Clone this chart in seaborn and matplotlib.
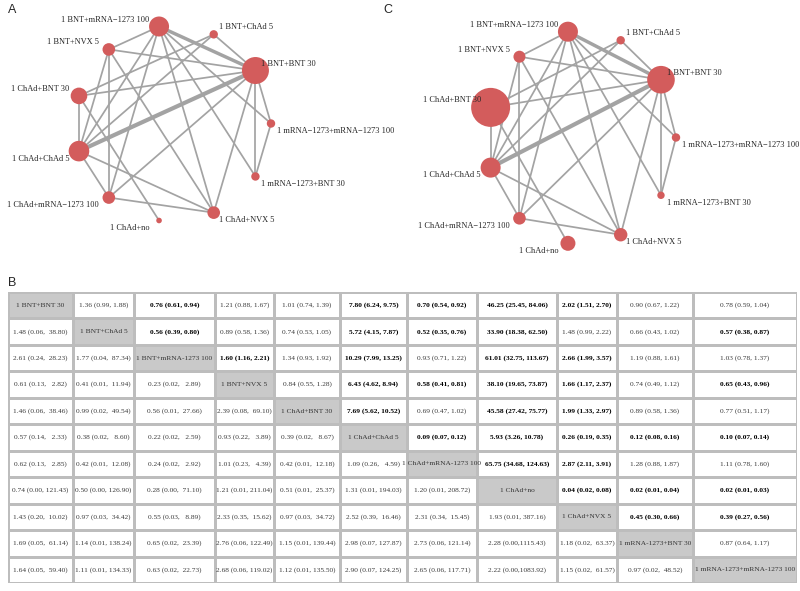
import re
import numpy as np
import matplotlib
matplotlib.use("Agg")
import matplotlib.pyplot as plt
import seaborn as sns
from matplotlib.colors import ListedColormap

# ---------- data ----------
treatments = ["1 BNT+BNT 30", "1 BNT+ChAd 5", "1 BNT+mRNA-1273 100", "1 BNT+NVX 5",
              "1 ChAd+BNT 30", "1 ChAd+ChAd 5", "1 ChAd+mRNA-1273 100", "1 ChAd+no",
              "1 ChAd+NVX 5", "1 mRNA-1273+BNT 30", "1 mRNA-1273+mRNA-1273 100"]

# direct comparisons in the network (indices into treatments)
edges = [(0, 1), (0, 2), (0, 3), (0, 4), (0, 5), (0, 6), (0, 8), (0, 9), (0, 10),
         (1, 4), (1, 5),
         (2, 3), (2, 5), (2, 6), (2, 8), (2, 9), (2, 10),
         (3, 5), (3, 6), (3, 8),
         (4, 5), (4, 7),
         (5, 6), (5, 8),
         (6, 8),
         (9, 10)]
edge_weight = [1, 2.0, 1, 1, 2.4, 1, 1, 1, 1,
               1, 1,
               1, 1, 1, 1, 1, 1,
               1, 1, 1,
               1, 1,
               1, 1,
               1,
               1]

# node size (radius, px) in panel A and panel C
node_a = [13.5, 4.2, 10.0, 6.3, 8.3, 10.3, 6.3, 2.8, 6.3, 4.2, 4.2]
node_c = [13.8, 4.2, 10.0, 6.0, 19.5, 10.0, 6.3, 7.5, 6.7, 3.7, 4.2]

# league table: upper triangle = panel B upper, lower triangle = lower
cells = [
    [None, "1.36 (0.99, 1.88)", "0.76 (0.61, 0.94)", "1.21 (0.88, 1.67)", "1.01 (0.74, 1.39)",
     "7.80 (6.24, 9.75)", "0.70 (0.54, 0.92)", "46.25 (25.45, 84.06)", "2.02 (1.51, 2.70)",
     "0.90 (0.67, 1.22)", "0.78 (0.59, 1.04)"],
    ["1.48 (0.06, 38.80)", None, "0.56 (0.39, 0.80)", "0.89 (0.58, 1.36)", "0.74 (0.53, 1.05)",
     "5.72 (4.15, 7.87)", "0.52 (0.35, 0.76)", "33.90 (18.38, 62.50)", "1.48 (0.99, 2.22)",
     "0.66 (0.43, 1.02)", "0.57 (0.38, 0.87)"],
    ["2.61 (0.24, 28.23)", "1.77 (0.04, 87.34)", None, "1.60 (1.16, 2.21)", "1.34 (0.93, 1.92)",
     "10.29 (7.99, 13.25)", "0.93 (0.71, 1.22)", "61.01 (32.75, 113.67)", "2.66 (1.99, 3.57)",
     "1.19 (0.88, 1.61)", "1.03 (0.78, 1.37)"],
    ["0.61 (0.13, 2.82)", "0.41 (0.01, 11.94)", "0.23 (0.02, 2.89)", None, "0.84 (0.55, 1.28)",
     "6.43 (4.62, 8.94)", "0.58 (0.41, 0.81)", "38.10 (19.65, 73.87)", "1.66 (1.17, 2.37)",
     "0.74 (0.49, 1.12)", "0.65 (0.43, 0.96)"],
    ["1.46 (0.06, 38.46)", "0.99 (0.02, 49.54)", "0.56 (0.01, 27.66)", "2.39 (0.08, 69.10)", None,
     "7.69 (5.62, 10.52)", "0.69 (0.47, 1.02)", "45.58 (27.42, 75.77)", "1.99 (1.33, 2.97)",
     "0.89 (0.58, 1.36)", "0.77 (0.51, 1.17)"],
    ["0.57 (0.14, 2.33)", "0.38 (0.02, 8.60)", "0.22 (0.02, 2.59)", "0.93 (0.22, 3.89)",
     "0.39 (0.02, 8.67)", None, "0.09 (0.07, 0.12)", "5.93 (3.26, 10.78)", "0.26 (0.19, 0.35)",
     "0.12 (0.08, 0.16)", "0.10 (0.07, 0.14)"],
    ["0.62 (0.13, 2.85)", "0.42 (0.01, 12.08)", "0.24 (0.02, 2.92)", "1.01 (0.23, 4.39)",
     "0.42 (0.01, 12.18)", "1.09 (0.26, 4.59)", None, "65.75 (34.68, 124.63)", "2.87 (2.11, 3.91)",
     "1.28 (0.88, 1.87)", "1.11 (0.78, 1.60)"],
    ["0.74 (0.00, 121.43)", "0.50 (0.00, 126.90)", "0.28 (0.00, 71.10)", "1.21 (0.01, 211.04)",
     "0.51 (0.01, 25.37)", "1.31 (0.01, 194.03)", "1.20 (0.01, 208.72)", None,
     "0.04 (0.02, 0.08)", "0.02 (0.01, 0.04)", "0.02 (0.01, 0.03)"],
    ["1.43 (0.20, 10.02)", "0.97 (0.03, 34.42)", "0.55 (0.03, 8.89)", "2.33 (0.35, 15.62)",
     "0.97 (0.03, 34.72)", "2.52 (0.39, 16.46)", "2.31 (0.34, 15.45)", "1.93 (0.01, 387.16)", None,
     "0.45 (0.30, 0.66)", "0.39 (0.27, 0.56)"],
    ["1.69 (0.05, 61.14)", "1.14 (0.01, 138.24)", "0.65 (0.02, 23.39)", "2.76 (0.06, 122.49)",
     "1.15 (0.01, 139.44)", "2.98 (0.07, 127.87)", "2.73 (0.06, 121.14)", "2.28 (0.00, 1115.43)",
     "1.18 (0.02, 63.37)", None, "0.87 (0.64, 1.17)"],
    ["1.64 (0.05, 59.40)", "1.11 (0.01, 134.33)", "0.63 (0.02, 22.73)", "2.68 (0.06, 119.02)",
     "1.12 (0.01, 135.50)", "2.90 (0.07, 124.25)", "2.65 (0.06, 117.71)", "2.22 (0.00, 1083.92)",
     "1.15 (0.02, 61.57)", "0.97 (0.02, 48.52)", None],
]

# relative column widths of the league table (layout)
col_w = [65, 61, 81, 59, 66, 67, 70, 80, 60, 76, 104]

NODE = "#d35c5c"
EDGE = "#a3a3a3"

sns.set_style("white")
plt.rcParams["font.family"] = ["Liberation Serif", "DejaVu Serif"]

W, H = 800, 591
fig = plt.figure(figsize=(W / 100, H / 100), dpi=100)


def px_axes(left, top, width, height):
    return fig.add_axes([left / W, 1 - (top + height) / H, width / W, height / H])


def draw_net(ax, radii):
    n = len(treatments)
    theta = 2 * np.pi * (np.arange(n) + 1) / n
    x, y = np.cos(theta), np.sin(theta)
    for (i, j), w in zip(edges, edge_weight):
        ax.plot([x[i], x[j]], [y[i], y[j]], color=EDGE, lw=1.25 * w,
                solid_capstyle="butt", zorder=1)
    s = (2 * np.array(radii) * 0.72) ** 2
    sns.scatterplot(x=x, y=y, s=s, color=NODE, edgecolor="none", linewidth=0,
                    legend=False, ax=ax, zorder=2)
    for k, name in enumerate(treatments):
        right = np.cos(theta[k]) > 0.05
        dx = 4 if right else -7
        dy = 5 if np.sin(theta[k]) > 0 else -5.5
        ax.annotate(name.replace("-", "\u2212"), (x[k], y[k]), xytext=(dx, dy),
                    textcoords="offset points", ha="left" if right else "right",
                    va="center", fontsize=6.0, zorder=3)
    ax.set_xlim(-1.5, 1.5)
    ax.set_ylim(-1.3, 1.3)
    ax.axis("off")


# ---------- panel A ----------
R = 98
ax_a = px_axes(173 - 1.5 * R, 123.5 - 1.3 * R, 3 * R, 2.6 * R)
draw_net(ax_a, node_a)

# ---------- panel C ----------
rx, ry = 94.6, 106.9
ax_c = px_axes(581.4 - 1.5 * rx, 137.5 - 1.3 * ry, 3 * rx, 2.6 * ry)
draw_net(ax_c, node_c)

# ---------- panel B: league table ----------
ax_t = px_axes(8, 292, 789, 291)
n = len(treatments)
x_edges = np.concatenate([[0], np.cumsum(col_w)]) / sum(col_w)
y_edges = np.arange(n + 1)
ax_t.pcolormesh(x_edges, y_edges, np.eye(n), cmap=ListedColormap(["white", "#c9c9c9"]),
                edgecolors="#bdbdbd", linewidth=0.8)
ax_t.set_xlim(0, 1)
ax_t.set_ylim(n, 0)
ax_t.axis("off")

for r in range(n):
    for c in range(n):
        xc = (x_edges[c] + x_edges[c + 1]) / 2
        if r == c:
            ax_t.text(xc, r + 0.5, treatments[r], ha="center", va="center",
                      fontsize=5.35, color="#333333")
            continue
        est, lo, hi = [float(v) for v in re.findall(r"[\d.]+", cells[r][c])]
        if c > r:
            label = f"{est:.2f} ({lo:.2f}, {hi:.2f})"
            bold = lo > 1 or hi < 1
        else:
            label = f"{est:.2f} ({lo:.2f},{hi:>7.2f})"
            bold = False
        ax_t.text(xc, r + 0.5, label, ha="center", va="center", fontsize=5.35,
                  fontweight="bold" if bold else "normal",
                  color="black" if bold else "#3a3a3a")

# panel letters
for letter, (px, py) in {"A": (8, 10), "C": (383, 10), "B": (8, 283)}.items():
    fig.text(px / W, 1 - py / H, letter, fontsize=9, family="Liberation Sans",
             ha="left", va="center")

fig.savefig("out.png", dpi=100)
